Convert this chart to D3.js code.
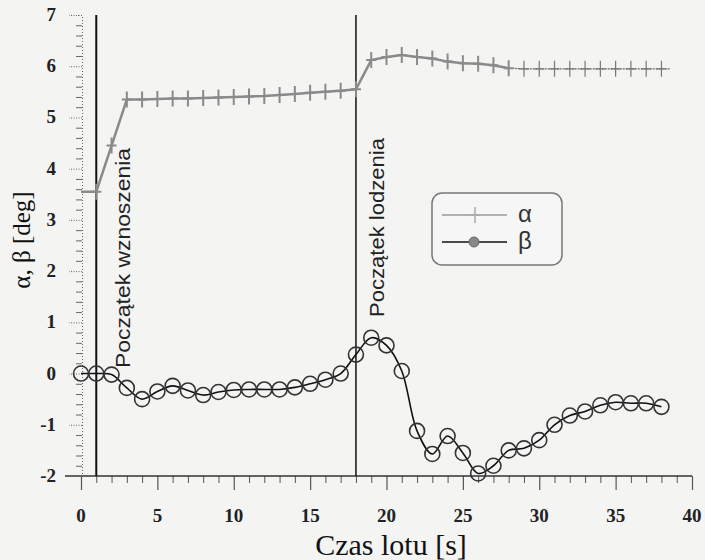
<!DOCTYPE html>
<html>
<head>
<meta charset="utf-8">
<script src="https://cdn.jsdelivr.net/npm/d3@7"></script>
<style>
  body { margin: 0; background: #f4f4f3; }
  svg { display: block; }
</style>
</head>
<body>
<div id="chart"></div>
<script>
var width = 705;
var height = 560;

// czas lotu [s]
var alphaTime = [0, 1, 2, 3, 4, 5, 6, 7, 8, 9, 10, 11, 12, 13, 14, 15, 16, 17, 18,
                 19, 20, 21, 22, 23, 24, 25, 26, 27, 28, 29, 30, 31, 32, 33, 34, 35, 36, 37, 38];
var alphaValues = [3.55, 3.55, 4.45, 5.35, 5.35, 5.36, 5.37, 5.37, 5.38, 5.39, 5.4, 5.41, 5.42, 5.44, 5.46, 5.48, 5.5, 5.52, 5.55,
                   6.12, 6.18, 6.22, 6.18, 6.15, 6.09, 6.06, 6.05, 6.02, 5.96, 5.95, 5.95, 5.95, 5.95, 5.95, 5.95, 5.95, 5.95, 5.95, 5.95];

var betaTime = [0, 1, 2, 3, 4, 5, 6, 7, 8, 9, 10, 11, 12, 13, 14, 15, 16, 17, 18,
                19, 20, 21, 22, 23, 24, 25, 26, 27, 28, 29, 30, 31, 32, 33, 34, 35, 36, 37, 38];
var betaValues = [0.0, 0.0, -0.02, -0.28, -0.5, -0.35, -0.24, -0.33, -0.42, -0.36, -0.32, -0.31, -0.31, -0.31, -0.27, -0.2, -0.12, 0.0, 0.37,
                  0.7, 0.55, 0.05, -1.12, -1.57, -1.22, -1.55, -1.95, -1.8, -1.5, -1.46, -1.3, -1.0, -0.82, -0.74, -0.62, -0.56, -0.58, -0.58, -0.65];

var xTicks = [0, 5, 10, 15, 20, 25, 30, 35, 40];
var yTicks = [-2, -1, 0, 1, 2, 3, 4, 5, 6, 7];

// zdarzenia (pionowe linie)
var events = [
  {t: 1, label: "Początek wznoszenia"},
  {t: 18, label: "Początek lodzenia"}
];

var seriesNames = ["α", "β"];

var alphaData = alphaTime.map(function(t, i) { return {t: t, v: alphaValues[i]}; });
var betaData = betaTime.map(function(t, i) { return {t: t, v: betaValues[i]}; });

var svg = d3.select("#chart").append("svg")
  .attr("width", width)
  .attr("height", height);

var xScale = d3.scaleLinear().domain([0, 40]).range([81, 692]);
var yScale = d3.scaleLinear().domain([-2, 7]).range([476, 15]);

// --- osie ---
var xAxis = d3.axisBottom(xScale).tickValues(d3.range(0, 41, 1)).tickSize(7).tickFormat("");
var gx = svg.append("g")
  .attr("transform", "translate(0," + yScale(-2) + ")")
  .call(xAxis);
gx.select(".domain").remove();
gx.selectAll(".tick line").attr("stroke", "#555").attr("stroke-width", 1);
gx.selectAll(".tick").filter(function(d) { return d % 5 === 0; })
  .select("line").attr("y2", 14).attr("stroke-width", 1.2);

svg.append("line")
  .attr("x1", 65).attr("x2", xScale(40))
  .attr("y1", yScale(-2)).attr("y2", yScale(-2))
  .attr("stroke", "#333").attr("stroke-width", 1.5);

svg.append("g").selectAll("text")
  .data(xTicks)
  .enter().append("text")
  .attr("x", function(d) { return xScale(d); })
  .attr("y", 522)
  .attr("text-anchor", "middle")
  .style("font-family", "'Liberation Serif', 'Times New Roman', serif")
  .style("font-size", "19px")
  .style("font-weight", "bold")
  .attr("fill", "#222")
  .text(function(d) { return d; });

var yAxis = d3.axisLeft(yScale).tickValues(d3.range(-2, 7.01, 0.2)).tickSize(6).tickFormat("");
var gy = svg.append("g")
  .attr("transform", "translate(82,0)")
  .call(yAxis);
gy.select(".domain")
  .attr("stroke", "#666").attr("stroke-dasharray", "1,2");
gy.selectAll(".tick line").attr("stroke", "#666");
gy.selectAll(".tick").filter(function(d) { return Math.abs(d - Math.round(d)) < 0.01; })
  .select("line").attr("x2", -13).attr("stroke-dasharray", "1,1.5");

svg.append("g").selectAll("text")
  .data(yTicks)
  .enter().append("text")
  .attr("x", 56)
  .attr("y", function(d) { return yScale(d) + 6; })
  .attr("text-anchor", "end")
  .style("font-family", "'Liberation Serif', 'Times New Roman', serif")
  .style("font-size", "19px")
  .style("font-weight", "bold")
  .attr("fill", "#222")
  .text(function(d) { return d; });

// tytuly osi
svg.append("text")
  .attr("x", 391)
  .attr("y", 555)
  .attr("text-anchor", "middle")
  .style("font-family", "'Liberation Serif', 'Times New Roman', serif")
  .style("font-size", "30px")
  .attr("fill", "#111")
  .text("Czas  lotu [s]");

svg.append("text")
  .attr("transform", "translate(30,240) rotate(-90)")
  .attr("text-anchor", "middle")
  .style("font-family", "'Liberation Serif', 'Times New Roman', serif")
  .style("font-size", "25px")
  .attr("fill", "#111")
  .text("α, β [deg]");

// --- linie zdarzen ---
svg.append("g").selectAll("line")
  .data(events)
  .enter().append("line")
  .attr("x1", function(d) { return xScale(d.t); })
  .attr("x2", function(d) { return xScale(d.t); })
  .attr("y1", yScale(7))
  .attr("y2", yScale(-2))
  .attr("stroke", "#111")
  .attr("stroke-width", function(d, i) { return i === 0 ? 2 : 1.5; });

svg.append("g").selectAll("text")
  .data(events)
  .enter().append("text")
  .attr("transform", function(d, i) {
    var ty = i === 0 ? 368 : 317;
    var dx = i === 0 ? 34 : 28;
    return "translate(" + (xScale(d.t) + dx) + "," + ty + ") rotate(-90)";
  })
  .attr("textLength", function(d, i) { return i === 0 ? 220 : 179; })
  .attr("lengthAdjust", "spacingAndGlyphs")
  .style("font-family", "'Liberation Sans', Arial, sans-serif")
  .style("font-size", "20px")
  .attr("fill", "#222")
  .text(function(d) { return d.label; });

// --- alfa ---
var line = d3.line()
  .x(function(d) { return xScale(d.t); })
  .y(function(d) { return yScale(d.v); });

var alphaBold = alphaData.filter(function(d) { return d.t <= 28; });
var alphaThin = alphaData.filter(function(d) { return d.t >= 28; });

svg.append("path")
  .datum(alphaBold)
  .attr("d", line)
  .attr("fill", "none")
  .attr("stroke", "#8a8a8a")
  .attr("stroke-width", 2.5);

svg.append("path")
  .datum(alphaThin.concat([{t: 38.6, v: alphaThin[alphaThin.length - 1].v}]))
  .attr("d", line)
  .attr("fill", "none")
  .attr("stroke", "#666")
  .attr("stroke-width", 1.2)
  .attr("stroke-dasharray", "2,1");

svg.append("g").selectAll("path")
  .data(alphaData.slice(1))
  .enter().append("path")
  .attr("d", function(d) {
    var x = xScale(d.t), y = yScale(d.v);
    return "M" + (x - 5) + "," + y + "H" + (x + 5) + "M" + x + "," + (y - 8) + "V" + (y + 8);
  })
  .attr("fill", "none")
  .attr("stroke", function(d) { return d.t > 28 ? "#777" : "#8a8a8a"; })
  .attr("stroke-width", function(d) { return d.t > 28 ? 1.2 : 2; });

// --- beta ---
var curve = d3.line()
  .curve(d3.curveCatmullRom.alpha(0.5))
  .x(function(d) { return xScale(d.t); })
  .y(function(d) { return yScale(d.v); });

svg.append("path")
  .datum(betaData)
  .attr("d", curve)
  .attr("fill", "none")
  .attr("stroke", "#111")
  .attr("stroke-width", 1.6);

svg.append("g").selectAll("circle")
  .data(betaData)
  .enter().append("circle")
  .attr("cx", function(d) { return xScale(d.t); })
  .attr("cy", function(d) { return yScale(d.v); })
  .attr("r", 7.5)
  .attr("fill", "none")
  .attr("stroke", "#333")
  .attr("stroke-width", 1.6);

// --- legenda ---
var legend = svg.append("g").attr("transform", "translate(432,193)");
legend.append("rect")
  .attr("width", 130).attr("height", 72)
  .attr("rx", 10).attr("ry", 10)
  .attr("fill", "#f6f6f6")
  .attr("stroke", "#777")
  .attr("stroke-width", 1.5);

legend.append("line")
  .attr("x1", 10).attr("x2", 75).attr("y1", 22).attr("y2", 22)
  .attr("stroke", "#999").attr("stroke-width", 1.5);
legend.append("path")
  .attr("d", "M38,22H48M43,14V30")
  .attr("stroke", "#aaa").attr("stroke-width", 1.5);

legend.append("line")
  .attr("x1", 10).attr("x2", 75).attr("y1", 49).attr("y2", 49)
  .attr("stroke", "#111").attr("stroke-width", 1.6);
legend.append("circle")
  .attr("cx", 42).attr("cy", 49).attr("r", 5)
  .attr("fill", "#888").attr("stroke", "#666");

legend.selectAll("text.lab")
  .data(seriesNames)
  .enter().append("text")
  .attr("class", "lab")
  .attr("x", 86)
  .attr("y", function(d, i) { return 29 + i * 27; })
  .style("font-family", "'Liberation Sans', Arial, sans-serif")
  .style("font-size", "24px")
  .attr("fill", "#333")
  .text(function(d) { return d; });
</script>
</body>
</html>
